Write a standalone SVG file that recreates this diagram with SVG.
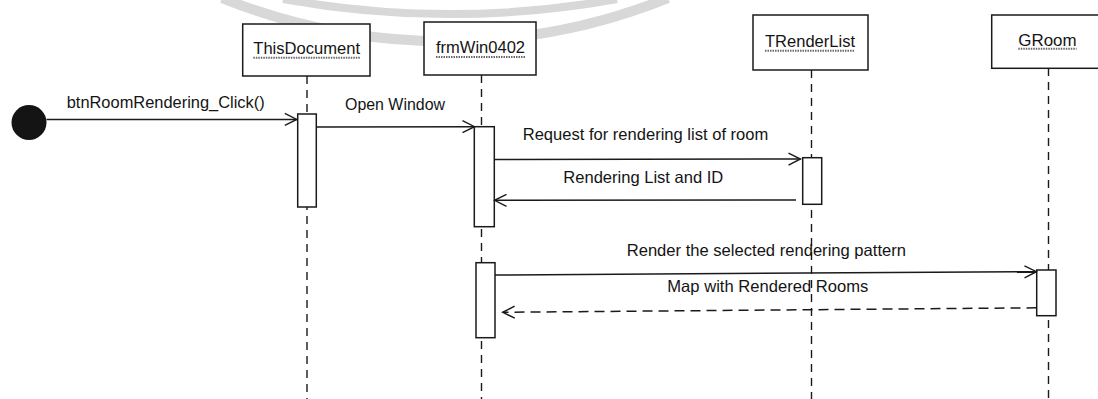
<svg xmlns="http://www.w3.org/2000/svg" width="1098" height="399" viewBox="0 0 1098 399">
  <defs>
    <style>
      .box { fill: #ffffff; stroke: #1a1a1a; stroke-width: 1.5; }
      .act { fill: #ffffff; stroke: #1a1a1a; stroke-width: 1.5; }
      .life { fill: none; stroke: #1a1a1a; stroke-width: 1.4; stroke-dasharray: 8 6; }
      .msg { fill: none; stroke: #1a1a1a; stroke-width: 1.5; marker-end: url(#open); }
      .ret { fill: none; stroke: #1a1a1a; stroke-width: 1.5; stroke-dasharray: 10 6; marker-end: url(#open); }
      .ul { stroke: #6a6a6a; stroke-width: 2; stroke-dasharray: 1.5 1; }
      .wm { fill: none; stroke: #d8d8d8; }
      text { font-family: "Liberation Sans", Arial, sans-serif; font-size: 16.5px; fill: #141414; }
    </style>
    <marker id="open" viewBox="-14 -8 16 16" refX="0" refY="0" markerWidth="16" markerHeight="16" markerUnits="userSpaceOnUse" orient="auto">
      <path d="M-12,-6 L0,0 L-12,6" fill="none" stroke="#1a1a1a" stroke-width="1.4"/>
    </marker>
  </defs>

  <rect x="0" y="0" width="1098" height="399" fill="#ffffff"/>

  <!-- faint rings along the top edge -->
  <path class="wm" stroke-width="10" d="M222,-2 A597 597 0 0 0 668,-2"/>
  <path class="wm" stroke-width="8" d="M283,-1 A937 937 0 0 0 617,-1"/>

  <!-- lifelines -->
  <g id="lifelines">
    <line class="life" x1="307" y1="76" x2="307" y2="399"/>
    <line class="life" x1="481.5" y1="75" x2="481.5" y2="399"/>
    <line class="life" x1="811.5" y1="70" x2="811.5" y2="399"/>
    <line class="life" x1="1048.5" y1="68" x2="1048.5" y2="399"/>
  </g>

  <g id="start">
    <circle cx="29" cy="122.5" r="17.5" fill="#141414"/>
  </g>

  <g id="ThisDocument">
    <rect class="box" x="242.7" y="24" width="127.3" height="52"/>
    <text x="253.3" y="54" textLength="106.7" lengthAdjust="spacingAndGlyphs">ThisDocument</text>
    <line class="ul" x1="253.3" y1="57.7" x2="360" y2="57.7"/>
    <rect class="act" x="297.7" y="114" width="18.6" height="93"/>
  </g>

  <g id="frmWin0402">
    <rect class="box" x="424" y="22" width="112" height="53"/>
    <text x="436" y="53.3" textLength="89" lengthAdjust="spacingAndGlyphs">frmWin0402</text>
    <line class="ul" x1="436" y1="57" x2="525" y2="57"/>
    <rect class="act" x="474.3" y="126.7" width="20" height="100"/>
    <rect class="act" x="476" y="262.7" width="19" height="75"/>
  </g>

  <g id="TRenderList">
    <rect class="box" x="753" y="15" width="115" height="55"/>
    <text x="765" y="47" textLength="90" lengthAdjust="spacingAndGlyphs">TRenderList</text>
    <line class="ul" x1="765" y1="50.7" x2="855" y2="50.7"/>
    <rect class="act" x="802.7" y="157.7" width="19" height="46.6"/>
  </g>

  <g id="GRoom">
    <rect class="box" x="991.7" y="15" width="113" height="53.3"/>
    <text x="1018.3" y="45.7" textLength="58.3" lengthAdjust="spacingAndGlyphs">GRoom</text>
    <line class="ul" x1="1018.3" y1="48.8" x2="1076.6" y2="48.8"/>
    <rect class="act" x="1036.7" y="270" width="19.3" height="45.7"/>
  </g>

  <g id="connectors">
    <line class="msg" x1="46.5" y1="119.4" x2="296.8" y2="119.4"/>
    <text x="66.7" y="108.3" textLength="198" lengthAdjust="spacingAndGlyphs">btnRoomRendering_Click()</text>

    <line class="msg" x1="316.3" y1="127" x2="474.5" y2="126.7"/>
    <text x="345" y="110" textLength="100" lengthAdjust="spacingAndGlyphs">Open Window</text>

    <line class="msg" x1="494.3" y1="159.5" x2="800.5" y2="159"/>
    <text x="522.7" y="140" textLength="245.6" lengthAdjust="spacingAndGlyphs">Request for rendering list of room</text>

    <line class="msg" x1="796" y1="200" x2="494.5" y2="200.3"/>
    <text x="563.3" y="183.3" textLength="160" lengthAdjust="spacingAndGlyphs">Rendering List and ID</text>

    <line class="msg" x1="495" y1="275" x2="1036.5" y2="271.7"/>
    <text x="626.7" y="255.7" textLength="279.3" lengthAdjust="spacingAndGlyphs">Render the selected rendering pattern</text>

    <line class="ret" x1="1036.5" y1="307.8" x2="502.7" y2="312.3"/>
    <text x="667.3" y="291.7" textLength="201" lengthAdjust="spacingAndGlyphs">Map with Rendered Rooms</text>
  </g>
</svg>
